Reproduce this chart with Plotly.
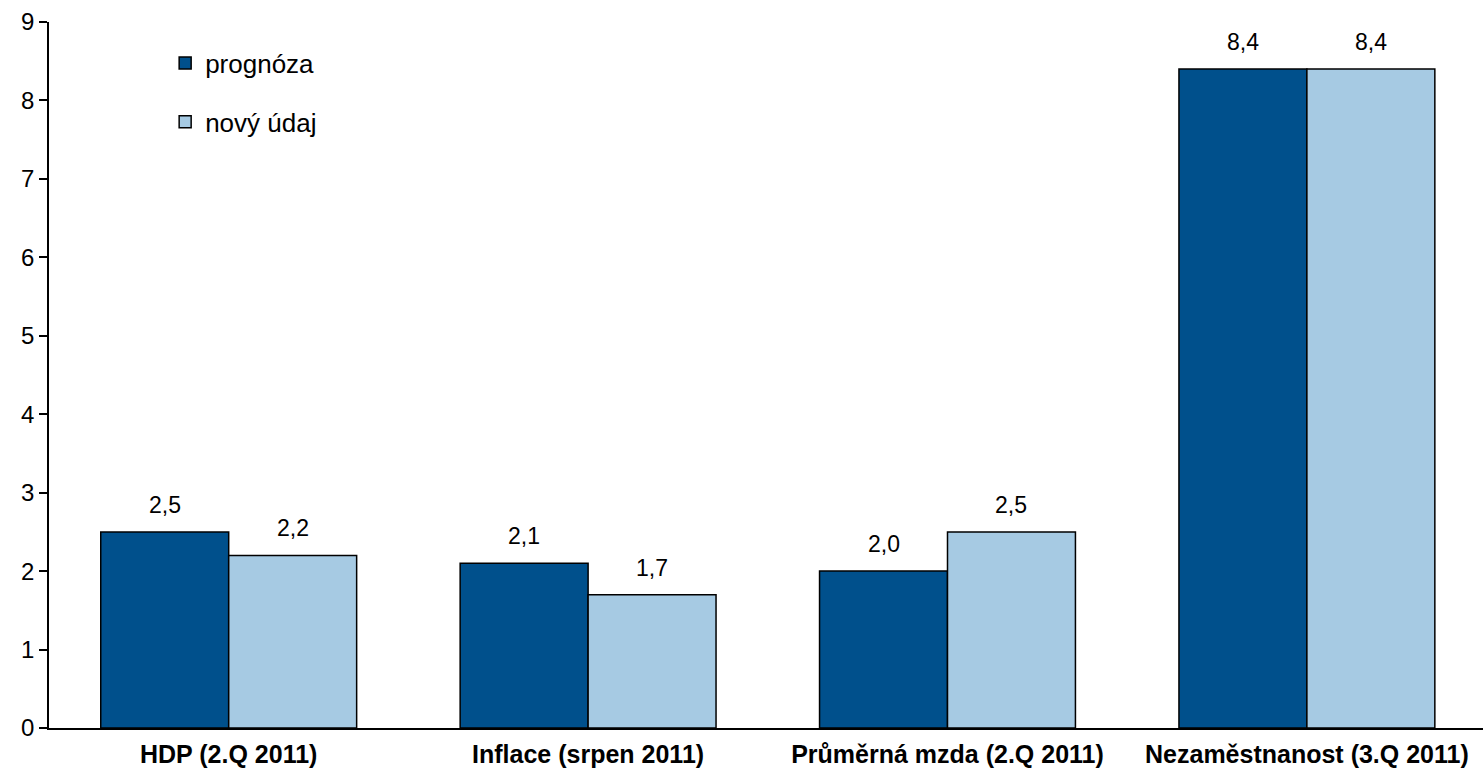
import plotly.graph_objects as go

categories = ["HDP (2.Q 2011)", "Inflace (srpen 2011)", "Průměrná mzda (2.Q 2011)", "Nezaměstnanost (3.Q 2011)"]
prognoza = [2.5, 2.1, 2.0, 8.4]
novy_udaj = [2.2, 1.7, 2.5, 8.4]
series_names = ["prognóza", "nový údaj"]
y_ticks = [0, 1, 2, 3, 4, 5, 6, 7, 8, 9]

dark = "#00508C"
light = "#A6CAE3"
font_family = "Liberation Sans, Arial, sans-serif"

def fmt(v):
    return f"{v:.1f}".replace(".", ",")

fig = go.Figure()
fig.add_trace(go.Bar(x=categories, y=prognoza, name=series_names[0], legendgroup="a",
                     marker=dict(color=dark, line=dict(color="black", width=1.5))))
fig.add_trace(go.Bar(x=categories, y=novy_udaj, name=series_names[1], legendgroup="b",
                     marker=dict(color=light, line=dict(color="black", width=1.5))))

half = (1 - 0.288) / 4
for i, (a, b) in enumerate(zip(prognoza, novy_udaj)):
    for xv, v in ((i - half, a), (i + half, b)):
        fig.add_annotation(x=xv, y=v, xref="x", yref="y", text=fmt(v), showarrow=False,
                           yshift=27, font=dict(size=23, color="black", family=font_family))

fig.update_layout(
    width=1483, height=773,
    margin=dict(l=49, r=0, t=22, b=45),
    paper_bgcolor="white", plot_bgcolor="white",
    barmode="group", bargap=0.288, bargroupgap=0,
    font=dict(family=font_family, color="black"),
    legend=dict(x=0.081, y=0.975, xanchor="left", yanchor="top", bgcolor="rgba(0,0,0,0)",
                font=dict(size=26, family=font_family), tracegroupgap=22),
    showlegend=True,
)
fig.update_xaxes(range=[-0.5, 3.49], showline=True, linecolor="black", linewidth=1.5,
                 ticks="", tickfont=dict(size=25, family=font_family), showgrid=False,
                 ticklabelstandoff=3)
fig.update_yaxes(range=[0, 9], tickvals=y_ticks, showline=True, linecolor="black", linewidth=1.5,
                 ticks="outside", ticklen=8, tickcolor="black", tickwidth=1.5,
                 tickfont=dict(size=24, family=font_family), showgrid=False, zeroline=False,
                 ticklabelstandoff=0)

fig.for_each_xaxis(lambda ax: ax.update(tickvals=list(range(len(categories))), ticktext=[f"<b>{c}</b>" for c in categories]))

fig.write_html("out.html")
